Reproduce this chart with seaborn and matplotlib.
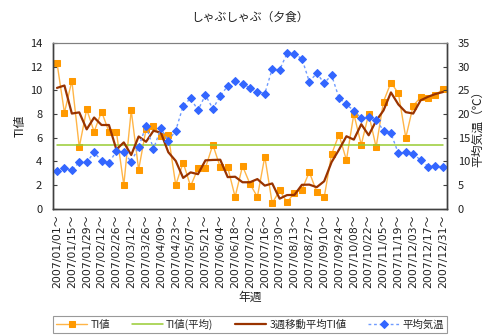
import matplotlib
matplotlib.use("Agg")
import matplotlib.pyplot as plt
from matplotlib.ticker import FixedLocator, MultipleLocator
import seaborn as sns
import pandas as pd
import numpy as np

sns.set_style("white")
plt.rcParams["font.family"] = ["Noto Sans CJK JP", "DejaVu Sans"]

# Weekly categories (week starting dates)
week_start = pd.date_range("2007-01-01", periods=53, freq="7D")
week_labels = [f"{d:%Y/%m/%d}～" for d in week_start]

# TI value per week
ti = [12.3, 8.1, 10.8, 5.2, 8.4, 6.5, 8.2, 6.5, 6.5, 2.0,
      8.3, 3.3, 6.7, 6.95, 6.1, 6.2, 2.0, 3.9, 1.9, 3.4,
      3.45, 5.4, 3.5, 3.5, 1.0, 3.6, 2.1, 1.0, 4.4, 0.45,
      1.55, 0.55, 1.35, 1.6, 3.1, 1.4, 0.95, 4.6, 6.25, 4.1,
      8.0, 5.4, 8.0, 5.2, 9.05, 10.65, 9.75, 6.0, 8.7, 9.4,
      9.35, 9.6, 10.1]

# Weekly mean air temperature (deg C)
temperature = [7.9, 8.5, 8.1, 9.8, 9.8, 11.9, 10.1, 9.6, 12.2, 11.9,
               9.9, 13.0, 17.5, 12.6, 17.0, 14.3, 16.5, 21.7, 23.3, 20.8,
               24.0, 21.1, 23.8, 25.9, 27.0, 26.3, 25.5, 24.7, 24.3, 29.5,
               29.3, 32.8, 32.6, 31.7, 26.8, 28.6, 26.5, 28.2, 23.4, 22.0,
               20.7, 19.1, 19.3, 18.7, 16.5, 15.9, 11.7, 11.9, 11.5, 10.3,
               8.9, 9.0, 8.7]

legend_labels = ["TI値", "TI値(平均)", "3週移動平均TI値", "平均気温"]

df = pd.DataFrame({"week": np.arange(len(ti)), "ti": ti, "temp": temperature})
df["ti_mean"] = df["ti"].mean()
df["ti_ma3"] = df["ti"].rolling(3, center=True, min_periods=2).mean()

fig = plt.figure(figsize=(5.0, 3.35), dpi=100)
ax = fig.add_axes([0.1066, 0.377, 0.7866, 0.495])
ax2 = ax.twinx()

sns.lineplot(data=df, x="week", y="ti", ax=ax, color="#FFB547", linewidth=1.0,
             marker="s", markersize=4.5, markerfacecolor="#FF9900",
             markeredgecolor="#FF9900", label=legend_labels[0], legend=False)
sns.lineplot(data=df, x="week", y="ti_mean", ax=ax, color="#99CC33",
             linewidth=1.1, label=legend_labels[1], legend=False)
sns.lineplot(data=df, x="week", y="ti_ma3", ax=ax, color="#993300",
             linewidth=1.6, label=legend_labels[2], legend=False)
sns.lineplot(data=df, x="week", y="temp", ax=ax2, color="#6F9BFF",
             linewidth=1.0, linestyle=(0, (2, 2)), marker="D", markersize=4,
             markerfacecolor="#3366FF", markeredgecolor="#3366FF",
             label=legend_labels[3], legend=False)

n = len(ti)
ax.set_xlim(-0.5, n - 0.5)
ax.set_ylim(0, 14)
ax2.set_ylim(0, 35)
ax.yaxis.set_major_locator(MultipleLocator(2))
ax2.yaxis.set_major_locator(MultipleLocator(5))

ax.set_xticks(np.arange(0, n, 2))
ax.set_xticklabels(week_labels[::2], rotation=90, fontsize=7.8,
                   color="#202020", family=["DejaVu Sans", "Noto Sans CJK JP"])
ax.xaxis.set_minor_locator(FixedLocator(np.arange(-0.5, n, 1)))
ax.tick_params(axis="x", which="major", length=0, pad=4)
ax.tick_params(axis="x", which="minor", direction="in", length=3,
               width=0.8, color="#404040")
ax.tick_params(axis="y", direction="in", length=3, width=0.8,
               color="#404040", labelsize=8, pad=8, labelcolor="#202020")
ax2.tick_params(axis="y", direction="in", length=3, width=0.8,
                color="#404040", labelsize=8, pad=8, labelcolor="#202020")

ax.set_xlabel("年週", fontsize=8.5, labelpad=2, color="#202020")
ax.set_ylabel("TI値", fontsize=8.5, labelpad=2, color="#202020")
ax2.set_ylabel("平均気温（℃）", fontsize=8.5, labelpad=1, color="#202020")
ax.set_title("しゃぶしゃぶ（夕食）", fontsize=8.5, pad=16, color="#202020")

for a in (ax, ax2):
    for side in ("left", "right", "bottom"):
        a.spines[side].set_color("#404040")
        a.spines[side].set_linewidth(1.0)
    a.spines["top"].set_color("#808080")
    a.spines["top"].set_linewidth(0.8)

h1, l1 = ax.get_legend_handles_labels()
h2, l2 = ax2.get_legend_handles_labels()
leg = fig.legend(h1 + h2, l1 + l2, loc="lower left",
                 bbox_to_anchor=(0.106, 0.005, 0.788, 0.06), mode="expand",
                 ncol=4, fontsize=7.5, frameon=True, fancybox=False,
                 edgecolor="#808080", handlelength=3.0, columnspacing=1.5,
                 handletextpad=0.3, borderpad=0.3, borderaxespad=0.0)
leg.get_frame().set_linewidth(0.8)

fig.savefig("out.png", dpi=100, facecolor="white")
